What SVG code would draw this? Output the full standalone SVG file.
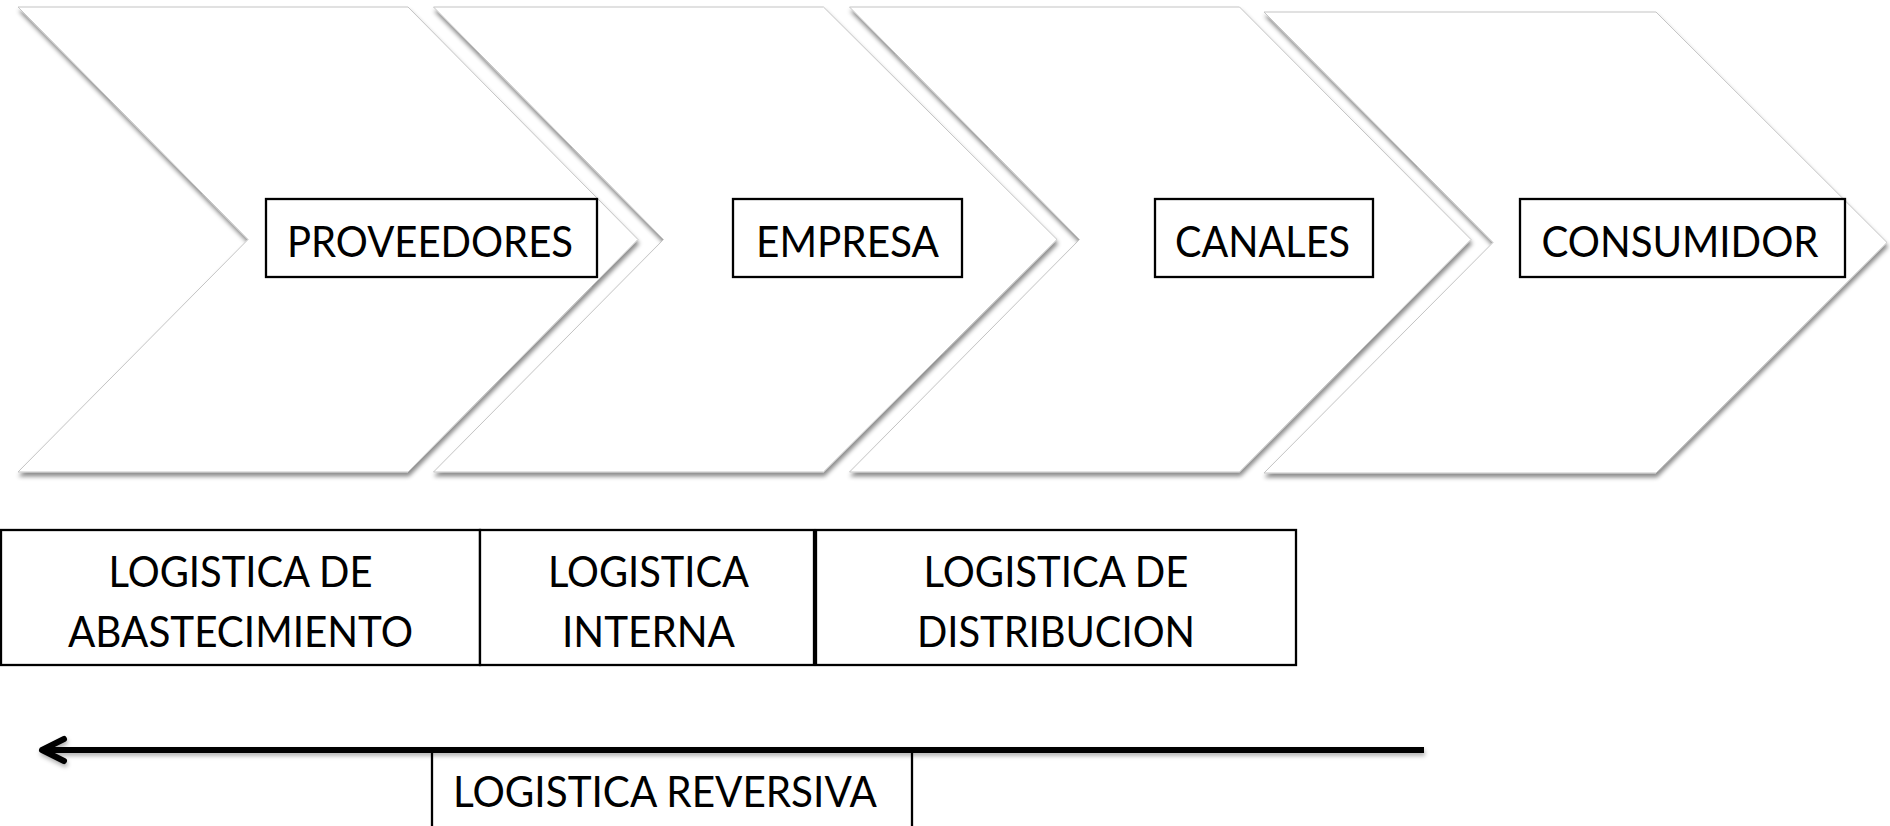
<svg xmlns="http://www.w3.org/2000/svg" width="1890" height="826" viewBox="0 0 1890 826">
<style>
.chev{fill:#ffffff;stroke:#c4c4c4;stroke-width:1;filter:url(#sh)}
.box{fill:#ffffff;stroke:#000000;stroke-width:2.3}
.obox{fill:none;stroke:#000000;stroke-width:2.3}
.lbl{font-family:Lato,"Liberation Sans",sans-serif;font-size:42px;fill:#000000;text-anchor:middle}
</style>
<defs>
<filter id="sh" x="-10%" y="-10%" width="120%" height="125%">
<feDropShadow dx="1" dy="4" stdDeviation="2.2" flood-color="#000000" flood-opacity="0.45"/>
</filter>
<filter id="lsh" filterUnits="userSpaceOnUse" x="0" y="715" width="1460" height="70">
<feDropShadow dx="1" dy="3" stdDeviation="2" flood-color="#000000" flood-opacity="0.3"/>
</filter>
<marker id="ah" markerUnits="userSpaceOnUse" viewBox="-30 -16 36 32" refX="0" refY="0" markerWidth="36" markerHeight="32" orient="auto">
<path d="M-22,-11 L0,0 L-22,11" fill="none" stroke="#000000" stroke-width="6" stroke-linecap="round" stroke-linejoin="round"/>
</marker>
</defs>
<rect width="1890" height="826" fill="#ffffff"/>

<g id="proveedores">
<polygon class="chev" points="18,7 408,7 638,239.5 408,472 18,472 248,239.5"/>
<rect class="box" x="266" y="199" width="331" height="78"/>
<text class="lbl" x="430" y="257" textLength="286" lengthAdjust="spacingAndGlyphs">PROVEEDORES</text>
</g>
<g id="empresa">
<polygon class="chev" points="433.5,7 823.5,7 1057,239.5 823.5,472 433.5,472 663.5,239.5"/>
<rect class="box" x="733" y="199" width="229" height="78"/>
<text class="lbl" x="847.5" y="257" textLength="183" lengthAdjust="spacingAndGlyphs">EMPRESA</text>
</g>
<g id="canales">
<polygon class="chev" points="849.5,7 1239.5,7 1471,239.5 1239.5,472 849.5,472 1079.5,239.5"/>
<rect class="box" x="1155" y="199" width="218" height="78"/>
<text class="lbl" x="1262.5" y="257" textLength="175" lengthAdjust="spacingAndGlyphs">CANALES</text>
</g>
<g id="consumidor">
<polygon class="chev" points="1264,12 1656,12 1887,242.5 1656,473 1264,473 1493,242.5"/>
<rect class="box" x="1520" y="199" width="325" height="78"/>
<text class="lbl" x="1680" y="257" textLength="277" lengthAdjust="spacingAndGlyphs">CONSUMIDOR</text>
</g>

<g id="logistica-abastecimiento">
<rect class="box" x="1" y="530" width="479" height="135"/>
<text class="lbl" x="240.5" y="587" textLength="264" lengthAdjust="spacingAndGlyphs">LOGISTICA DE</text>
<text class="lbl" x="240.5" y="647" textLength="345" lengthAdjust="spacingAndGlyphs">ABASTECIMIENTO</text>
</g>
<g id="logistica-interna">
<rect class="box" x="480" y="530" width="334" height="135"/>
<text class="lbl" x="648.5" y="587" textLength="201" lengthAdjust="spacingAndGlyphs">LOGISTICA</text>
<text class="lbl" x="648.5" y="647" textLength="173" lengthAdjust="spacingAndGlyphs">INTERNA</text>
</g>
<g id="logistica-distribucion">
<rect class="box" x="816" y="530" width="480" height="135"/>
<text class="lbl" x="1056" y="587" textLength="265" lengthAdjust="spacingAndGlyphs">LOGISTICA DE</text>
<text class="lbl" x="1056" y="647" textLength="278" lengthAdjust="spacingAndGlyphs">DISTRIBUCION</text>
</g>
<g id="logistica-reversiva">
<rect class="obox" x="432" y="751" width="480" height="110"/>
<text class="lbl" x="665" y="807" textLength="424" lengthAdjust="spacingAndGlyphs">LOGISTICA REVERSIVA</text>
</g>

<g id="connectors">
<line x1="1424" y1="750" x2="42" y2="750" stroke="#000000" stroke-width="6" marker-end="url(#ah)" filter="url(#lsh)"/>
</g>
</svg>
